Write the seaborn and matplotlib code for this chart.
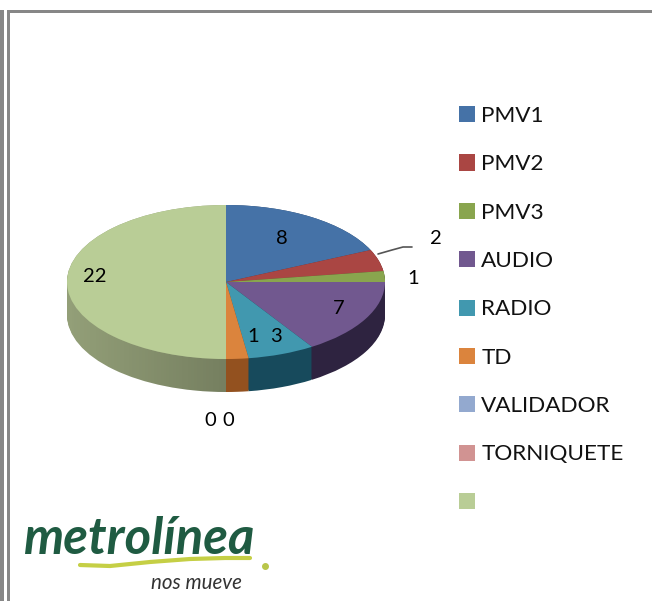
import numpy as np
import seaborn as sns
import matplotlib.pyplot as plt
from matplotlib.patches import Rectangle

categories = ["PMV1", "PMV2", "PMV3", "AUDIO", "RADIO", "TD", "VALIDADOR", "TORNIQUETE", ""]
values = [8, 2, 1, 7, 3, 1, 0, 0, 22]
colors = ["#4572A7", "#AA4643", "#89A54E", "#71588F", "#4198AF",
          "#DB843D", "#93A9CF", "#D19392", "#B9CD96"]
side_colors = ["#2b4566", "#682b29", "#535f2f", "#2e2340", "#174a5c",
               "#93511f", "#5a6781", "#7f5a59", "#939f78"]
# label centres in pixels
label_x = [282, 436, 413, 339, 276, 253, 210, 228, 95]
label_y = [239, 238, 278, 309, 337, 337, 421, 421, 277]

W, H = 652, 601
CX, CY, RX, RY, DEPTH = 226, 282, 159, 77, 33


def draw_pie(ax):
    depth = DEPTH / RY
    # side wall: same pie repeated downward, one pixel at a time
    for d in np.linspace(depth, 0, DEPTH + 1):
        ax.pie(values, colors=side_colors, startangle=90, counterclock=False,
               center=(0, -d), radius=1, wedgeprops={"linewidth": 0})

    # the left wall gets darker toward the front
    t = np.linspace(np.pi, 2 * np.pi, 200)
    xs = np.r_[np.cos(t), np.cos(t[::-1])]
    ys = np.r_[np.sin(t) - depth, np.sin(t[::-1])]
    wall = plt.Polygon(np.c_[xs, ys], closed=True, fc="none", ec="none")
    ax.add_patch(wall)
    shade = np.zeros((1, 64, 4))
    shade[0, :, 3] = np.linspace(0, 0.2, 64)
    img = ax.imshow(shade, extent=(-1, 0, -1 - depth, 1), aspect="auto", zorder=5)
    img.set_clip_path(wall)

    # top face
    wedges, _ = ax.pie(values, colors=colors, startangle=90, counterclock=False,
                       radius=1, wedgeprops={"linewidth": 0, "zorder": 6})
    ax.set_aspect("auto")
    ax.set_xlim(-1, 1)
    ax.set_ylim(-1 - depth, 1)
    return wedges


def draw_logo(ov):
    ov.text(24, 554, "metrolínea", fontsize=36.5, fontweight="bold", style="italic",
            color="#1f5b42", ha="left", va="baseline")
    x = np.array([80, 110, 150, 190, 225, 250])
    y = np.array([565, 566, 562, 559, 558, 558])
    ov.plot(x, y, color="#c5cf45", lw=3, solid_capstyle="round")
    ov.plot([265], [566], "o", color="#b9c64a", ms=4)
    ov.text(151, 589, "nos mueve", fontsize=14.8, style="italic",
            color="#333333", ha="left", va="baseline")


def main():
    sns.set_theme(style="white")
    plt.rcParams["font.family"] = ["Lato", "DejaVu Sans"]

    fig = plt.figure(figsize=(W / 100, H / 100), dpi=100, facecolor="white")
    ax = fig.add_axes([(CX - RX) / W, 1 - (CY + RY + DEPTH) / H,
                       2 * RX / W, (2 * RY + DEPTH) / H])
    palette = sns.color_palette(colors)
    draw_pie(ax)

    # overlay in pixel coordinates for texts, frame and logo
    ov = fig.add_axes([0, 0, 1, 1], zorder=3)
    ov.set_xlim(0, W)
    ov.set_ylim(H, 0)
    ov.axis("off")

    for v, x, y in zip(values, label_x, label_y):
        ov.text(x, y, str(v), fontsize=14.5, color="black", ha="center", va="center")
    ov.plot([378, 392, 403, 412], [254, 250, 247, 247], color="#555555", lw=1.2)

    frame = "#878787"
    ov.add_patch(Rectangle((0, 10), 4, H - 10, fc=frame, ec="none"))
    ov.add_patch(Rectangle((7, 10), 3, H - 10, fc=frame, ec="none"))
    ov.add_patch(Rectangle((7, 10), W - 7, 3, fc=frame, ec="none"))

    handles = [Rectangle((0, 0), 1, 1, fc=c, ec="none") for c in palette]
    ov.legend(handles, categories, loc="upper left", bbox_to_anchor=(459 / W, 1 - 106 / H),
              frameon=False, fontsize=16.2, borderpad=0, borderaxespad=0, handlelength=0.72,
              handleheight=0.72, handletextpad=0.27, labelspacing=1.26, labelcolor="#111111")

    draw_logo(ov)
    fig.savefig("out.png", dpi=100)


if __name__ == "__main__":
    main()
